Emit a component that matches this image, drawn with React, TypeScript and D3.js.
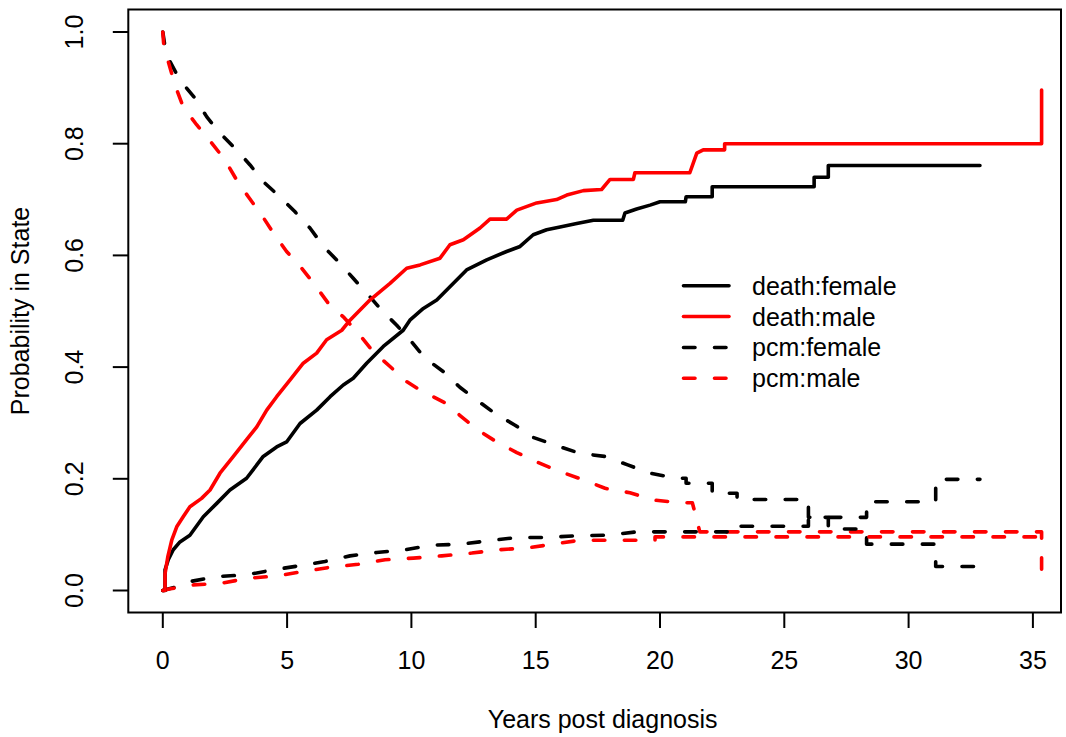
import * as d3 from "d3";

// step-ish curves: [years, probability]
const deathFemale: [number, number][] = [
  [0, 0], [0.09, 0], [0.09, 0.037], [0.22, 0.055], [0.42, 0.073], [0.69, 0.087], [1.09, 0.099],
  [1.63, 0.132], [2.17, 0.156], [2.7, 0.18], [3.37, 0.201], [4.04, 0.24], [4.58, 0.257], [4.98, 0.266],
  [5.52, 0.299], [6.19, 0.323], [6.73, 0.347], [7.26, 0.368], [7.66, 0.38], [8.2, 0.407], [8.87, 0.437],
  [9.67, 0.466], [9.94, 0.484], [10.48, 0.505], [11.02, 0.52], [11.69, 0.55], [12.22, 0.574],
  [13.03, 0.592], [13.83, 0.607], [14.37, 0.616], [14.9, 0.637], [15.44, 0.646], [15.98, 0.651],
  [16.65, 0.657], [17.32, 0.663], [18.5, 0.663], [18.59, 0.676], [19.06, 0.683], [19.6, 0.69],
  [20.0, 0.696], [21.02, 0.696], [21.05, 0.705], [22.1, 0.705], [22.1, 0.723], [26.2, 0.723],
  [26.2, 0.74], [26.77, 0.74], [26.77, 0.761], [32.87, 0.761],
];
const deathMale: [number, number][] = [
  [0, 0], [0.09, 0], [0.09, 0.03], [0.2, 0.06], [0.36, 0.09], [0.56, 0.114], [0.82, 0.132],
  [1.09, 0.15], [1.56, 0.165], [1.9, 0.18], [2.3, 0.21], [2.84, 0.24], [3.37, 0.27], [3.78, 0.293],
  [4.18, 0.323], [4.58, 0.347], [5.12, 0.377], [5.65, 0.407], [6.19, 0.425], [6.59, 0.449],
  [7.2, 0.466], [7.53, 0.484], [8.33, 0.52], [9.14, 0.55], [9.81, 0.577], [10.35, 0.583],
  [11.15, 0.595], [11.55, 0.619], [12.09, 0.628], [12.76, 0.649], [13.16, 0.665], [13.83, 0.665],
  [14.24, 0.681], [15.04, 0.694], [15.84, 0.7], [16.25, 0.708], [16.92, 0.716], [17.65, 0.718],
  [17.99, 0.736], [18.93, 0.736], [18.99, 0.748], [21.2, 0.748], [21.48, 0.783], [21.74, 0.789],
  [22.6, 0.789], [22.6, 0.8], [35.35, 0.8], [35.35, 0.896],
];
const entryFemale: [number, number][] = [
  [0, 1], [0.1, 0.97], [0.29, 0.947], [0.69, 0.914], [1.3, 0.881], [1.77, 0.848], [2.3, 0.819],
  [2.9, 0.792], [3.51, 0.762], [4.04, 0.732], [4.71, 0.705], [5.32, 0.678], [5.92, 0.649],
  [6.46, 0.616], [7.06, 0.589], [7.66, 0.559], [8.27, 0.529], [8.8, 0.502], [9.41, 0.475],
  [10.01, 0.445], [10.55, 0.416], [11.28, 0.392], [11.95, 0.364], [12.63, 0.341], [13.36, 0.317],
  [14.17, 0.296], [14.9, 0.274], [15.74, 0.261], [16.74, 0.246], [17.79, 0.24], [18.7, 0.225],
  [19.6, 0.21], [20.67, 0.201], [21.05, 0.201], [21.05, 0.192], [22.1, 0.192], [22.1, 0.174],
  [23.1, 0.174], [23.1, 0.163], [25.97, 0.163], [25.97, 0.131], [28.31, 0.131], [28.31, 0.159],
  [31.09, 0.159], [31.09, 0.199], [32.87, 0.199],
];
const entryMale: [number, number][] = [
  [0, 1], [0.05, 0.97], [0.22, 0.947], [0.49, 0.905], [0.82, 0.866], [1.36, 0.834], [1.97, 0.801],
  [2.5, 0.771], [2.97, 0.735], [3.44, 0.705], [3.98, 0.672], [4.45, 0.64], [4.98, 0.607],
  [5.59, 0.577], [6.12, 0.547], [6.66, 0.514], [7.26, 0.49], [7.86, 0.461], [8.4, 0.431],
  [9.14, 0.401], [9.81, 0.374], [10.35, 0.359], [11.35, 0.336], [12.02, 0.311], [12.69, 0.287],
  [13.43, 0.266], [14.24, 0.247], [15.1, 0.229], [15.98, 0.213], [16.92, 0.198], [17.79, 0.183],
  [18.79, 0.175], [19.73, 0.162], [20.87, 0.157], [21.3, 0.157], [21.45, 0.132], [21.6, 0.105],
  [35.35, 0.105], [35.35, 0.013],
];
const pcmFemale: [number, number][] = [
  [0, 0], [0.5, 0.006], [1.09, 0.016], [2.17, 0.025], [3.37, 0.028], [4.45, 0.037], [5.45, 0.044],
  [6.52, 0.052], [7.53, 0.062], [8.6, 0.068], [9.74, 0.073], [10.82, 0.081], [12.02, 0.083],
  [13.09, 0.089], [14.24, 0.095], [15.44, 0.095], [16.65, 0.098], [17.86, 0.099], [19.06, 0.105],
  [23.1, 0.105], [23.1, 0.115], [25.97, 0.115], [25.97, 0.131], [26.77, 0.131], [26.77, 0.11],
  [28.31, 0.11], [28.31, 0.083], [31.09, 0.083], [31.09, 0.043], [32.87, 0.043],
];
const pcmMale: [number, number][] = [
  [0, 0], [0.3, 0.003], [1.23, 0.01], [2.37, 0.013], [3.44, 0.022], [4.58, 0.026], [5.65, 0.034],
  [6.79, 0.042], [7.86, 0.047], [8.94, 0.055], [10.08, 0.058], [11.22, 0.062], [12.43, 0.067],
  [13.5, 0.073], [14.64, 0.076], [15.7, 0.083], [16.78, 0.09], [19.8, 0.09], [19.8, 0.096],
  [35.35, 0.096],
];

const xTicks = [0, 5, 10, 15, 20, 25, 30, 35];
const yTicks = [0, 0.2, 0.4, 0.6, 0.8, 1.0];
const legendLabels = ["death:female", "death:male", "pcm:female", "pcm:male"];
const legendColors = ["#000000", "#ff0000", "#000000", "#ff0000"];
const legendDashed = [false, false, true, true];

const W = 1066, H = 737;
const box = { left: 128.3, right: 1061, top: 9.5, bottom: 612.5 };
const FONT = "'Liberation Sans', Arial, Helvetica, sans-serif";
const FS = 25;
const LW = 3.6;
const DASH = "11.5 19.5";

export default function App() {
  const x = d3.scaleLinear().domain([0, 35]).range([162.8, 1032.9]);
  const y = d3.scaleLinear().domain([0, 1]).range([590.5, 32]);
  const line = d3.line<[number, number]>().x(d => x(d[0])).y(d => y(d[1]));

  const curves = [
    { d: entryFemale, c: "#000000", dash: true },
    { d: entryMale, c: "#ff0000", dash: true },
    { d: pcmFemale, c: "#000000", dash: true },
    { d: pcmMale, c: "#ff0000", dash: true },
    { d: deathFemale, c: "#000000", dash: false },
    { d: deathMale, c: "#ff0000", dash: false },
  ];

  const legY = d3.scaleLinear().domain([0, 3]).range([285.7, 378.3]);

  return (
    <div style={{ position: "absolute", left: 0, top: 0, width: W, height: H, background: "#fff" }}>
      <svg width={W} height={H} style={{ display: "block" }} fontFamily={FONT}>
        <rect x={0} y={0} width={W} height={H} fill="#fff" />
        <g fill="none" strokeLinejoin="round" strokeLinecap="round">
          {curves.map((cv, i) => (
            <path key={i} d={line(cv.d) ?? ""} stroke={cv.c} strokeWidth={LW}
              strokeDasharray={cv.dash ? DASH : undefined} />
          ))}
        </g>
        <rect x={box.left} y={box.top} width={box.right - box.left} height={box.bottom - box.top}
          fill="none" stroke="#000" strokeWidth={2} />
        {xTicks.map(t => (
          <g key={t}>
            <line x1={x(t)} x2={x(t)} y1={box.bottom} y2={box.bottom + 15.5} stroke="#000" strokeWidth={2} />
            <text x={x(t)} y={669} textAnchor="middle" fontSize={FS}>{t}</text>
          </g>
        ))}
        {yTicks.map(t => (
          <g key={t}>
            <line x1={box.left} x2={box.left - 15.5} y1={y(t)} y2={y(t)} stroke="#000" strokeWidth={2} />
            <text transform={`translate(82.5,${y(t)}) rotate(-90)`} textAnchor="middle" fontSize={FS}>
              {t.toFixed(1)}
            </text>
          </g>
        ))}
        <text x={(box.left + box.right) / 2 + 8} y={728} textAnchor="middle" fontSize={FS}>Years post diagnosis</text>
        <text transform={`translate(29,${(box.top + box.bottom) / 2}) rotate(-90)`} textAnchor="middle" fontSize={FS}>
          Probability in State
        </text>
        {legendLabels.map((lab, i) => (
          <g key={lab}>
            <line x1={683.5} x2={729} y1={legY(i)} y2={legY(i)} stroke={legendColors[i]} strokeWidth={LW}
              strokeLinecap="round" strokeDasharray={legendDashed[i] ? DASH : undefined} />
            <text x={752} y={legY(i) + 9} fontSize={FS}>{lab}</text>
          </g>
        ))}
      </svg>
    </div>
  );
}
